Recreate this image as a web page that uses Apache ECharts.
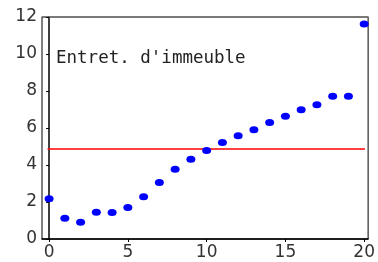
<!DOCTYPE html>
<html>
<head>
<meta charset="utf-8">
<script src="https://cdn.jsdelivr.net/npm/echarts@6/dist/echarts.min.js"></script>
<style>
  html, body { margin: 0; padding: 0; background: #fff; }
  #chart { width: 378px; height: 262px; }
</style>
</head>
<body>
<div id="chart"></div>
<script>
// points
const xValues = [0, 1, 2, 3, 4, 5, 6, 7, 8, 9, 10, 11, 12, 13, 14, 15, 16, 17, 18, 19, 20];
const yValues = [2.17, 1.12, 0.9, 1.44, 1.43, 1.7, 2.29, 3.05, 3.77, 4.31, 4.78, 5.22, 5.58, 5.9, 6.3, 6.64, 6.99, 7.26, 7.71, 7.71, 11.62];
const meanLevel = 4.86;
const meanFrom = -0.1;
const meanTo = 20.05;
const xTicks = [0, 5, 10, 15, 20];
const yTicks = [0, 2, 4, 6, 8, 10, 12];
const title = "Entret. d'immeuble";

const points = xValues.map((x, i) => [x, yValues[i]]);

const myChart = echarts.init(document.getElementById('chart'));
const labelFont = {
    fontFamily: 'DejaVu Sans',
    fontSize: 17,
    color: '#333'
};
const option = {
    animation: false,
    grid: {
        left: 42, right: 9, top: 17, bottom: 23,
        show: true,
        borderColor: '#000',
        borderWidth: 1
    },
    title: {
        text: title,
        left: 56,
        top: 49,
        padding: 0,
        textStyle: {fontFamily: 'DejaVu Sans Mono', fontSize: 17.5, fontWeight: 'normal', color: '#222'}
    },
    xAxis: [{
        type: 'value',
        min: -0.45,
        max: 20.25,
        splitLine: {show: false},
        axisLine: {lineStyle: {color: '#000', width: 1.5}},
        axisTick: {customValues: xTicks, length: 3, lineStyle: {color: '#000'}},
        axisLabel: Object.assign({customValues: xTicks, margin: 5}, labelFont)
    }, {
        type: 'value',
        position: 'top',
        min: -0.45,
        max: 20.25,
        splitLine: {show: false},
        axisLine: {lineStyle: {color: '#777', width: 1.5}},
        axisTick: {show: false},
        axisLabel: {show: false}
    }],
    yAxis: {
        type: 'value',
        min: 0,
        max: 12,
        interval: 2,
        splitLine: {show: false},
        axisLine: {show: true, lineStyle: {color: '#000', width: 1.5}},
        axisTick: {show: true, length: 3, lineStyle: {color: '#000'}},
        axisLabel: Object.assign({customValues: yTicks, margin: 5}, labelFont)
    },
    series: [{
        type: 'line',
        data: [[meanFrom, meanLevel], [meanTo, meanLevel]],
        symbol: 'none',
        lineStyle: {color: '#f00', width: 1.5},
        z: 1
    }, {
        type: 'scatter',
        data: points,
        symbol: 'circle',
        symbolSize: [9, 7],
        itemStyle: {color: '#0000ff', opacity: 1},
        z: 2
    }]
};
myChart.setOption(option);
</script>
</body>
</html>
